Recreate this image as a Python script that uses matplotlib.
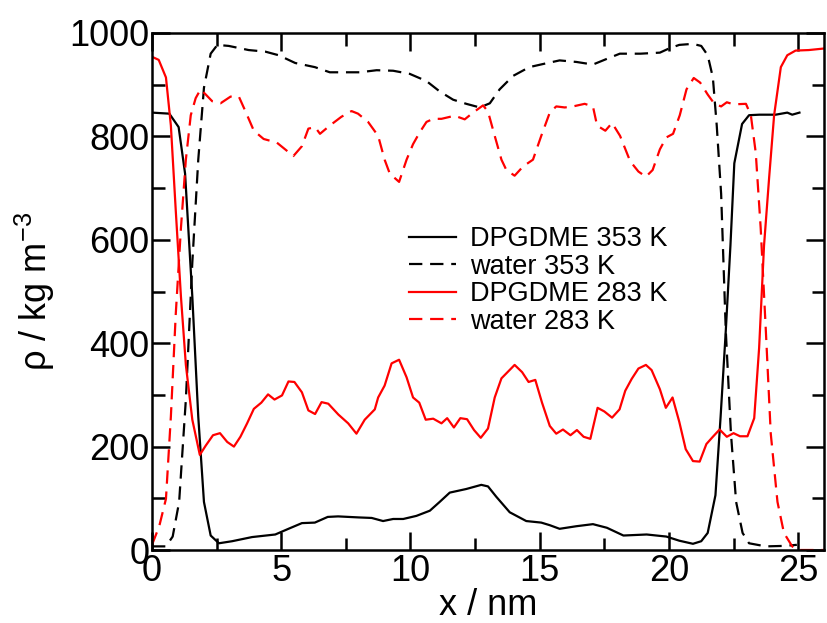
import matplotlib
matplotlib.use("Agg")
import matplotlib.pyplot as plt
from matplotlib.ticker import MultipleLocator

plt.rcParams['font.family'] = ['Liberation Sans', 'DejaVu Sans']
plt.rcParams['mathtext.default'] = 'regular'

# density profiles along the box, x in nm, rho in kg/m^3
x_dpg353 = [0, 0.67, 1.03, 1.28, 1.56, 1.79, 2.01, 2.27, 2.59, 3.1, 3.87, 4.77, 5.28, 5.8,
            6.3, 6.8, 7.2, 8.0, 8.5, 8.94, 9.33, 9.72, 10.23, 10.75, 11.13, 11.52, 12.16,
            12.74, 13.0, 13.32, 13.84, 14.48, 15.06, 15.39, 15.77, 16.42, 17.06, 17.6,
            18.24, 19.14, 19.9, 20.4, 20.93, 21.25, 21.5, 21.8, 22.0, 22.2, 22.38, 22.53,
            22.83, 23.1, 23.5, 24.13, 24.58, 24.77, 25.05]
y_dpg353 = [846, 844, 818, 728, 490, 258, 93, 28, 13, 17, 25, 30, 41, 52,
            53, 64, 65, 63, 62, 56, 60, 60, 66, 76, 93, 111, 118,
            126, 123, 103, 73, 56, 53, 48, 41, 46, 50, 43,
            28, 30, 26, 18, 12, 17, 33, 106, 258, 424, 589, 748,
            824, 841, 842, 842, 846, 842, 846]

x_wat353 = [0, 0.54, 0.8, 1.05, 1.31, 1.56, 1.79, 2.01, 2.27, 2.53, 2.97, 3.74, 4.38, 4.9,
            5.54, 6.3, 6.88, 7.46, 8.04, 8.69, 9.33, 9.97, 10.62, 11.13, 11.65, 12.16,
            12.68, 13.07, 13.45, 13.97, 14.6, 15.13, 15.77, 16.42, 17.06, 17.6, 18.1,
            18.9, 19.65, 20.0, 20.4, 20.92, 21.25, 21.5, 21.7, 21.85, 22.02, 22.2, 22.4,
            22.6, 22.85, 23.1, 23.75, 24.5, 24.95]
y_wat353 = [7, 7, 26, 93, 291, 556, 755, 894, 960, 977, 975, 967, 964, 957,
            942, 934, 924, 924, 924, 928, 927, 921, 907, 887, 871, 863,
            856, 864, 891, 917, 934, 940, 947, 944, 939, 950, 960,
            960, 962, 970, 977, 979, 975, 957, 914, 821, 689, 424, 225,
            93, 33, 13, 7, 8, 10]

x_dpg283 = [0, 0.26, 0.54, 0.73, 0.92, 1.12, 1.31, 1.56, 1.85, 2.08, 2.36, 2.63, 2.91,
            3.17, 3.42, 3.68, 3.94, 4.23, 4.49, 4.74, 5.03, 5.28, 5.51, 5.8, 6.05, 6.31,
            6.56, 6.82, 7.21, 7.59, 7.91, 8.23, 8.62, 8.75, 9.0, 9.27, 9.56, 9.85, 10.1,
            10.34, 10.59, 10.88, 11.2, 11.42, 11.68, 11.93, 12.19, 12.46, 12.72, 13.0,
            13.26, 13.52, 14.03, 14.32, 14.57, 14.83, 15.09, 15.39, 15.64, 15.9, 16.19,
            16.44, 16.7, 16.96, 17.24, 17.5, 17.8, 18.09, 18.31, 18.56, 18.82, 19.11,
            19.33, 19.65, 19.88, 20.14, 20.4, 20.65, 20.93, 21.19, 21.45, 21.7, 21.96,
            22.24, 22.5, 22.75, 23.04, 23.3, 23.49, 23.68, 23.88, 24.07, 24.33, 24.58,
            24.9, 25.41, 26.0]
y_dpg283 = [954, 948, 914, 821, 656, 490, 358, 252, 184, 202, 222, 226, 209,
            200, 219, 245, 273, 285, 301, 291, 299, 326, 325, 305, 270, 263,
            286, 283, 262, 245, 225, 252, 272, 295, 318, 361, 368, 334, 295,
            285, 252, 254, 245, 255, 237, 255, 253, 232, 217, 235,
            295, 332, 358, 344, 325, 329, 285, 240, 225, 233, 222,
            232, 219, 215, 275, 268, 256, 272, 308, 331, 351, 358,
            348, 311, 275, 295, 248, 195, 172, 171, 205, 219, 233,
            219, 226, 220, 220, 255, 391, 589, 722, 841, 934, 957,
            966, 967, 970]

x_wat283 = [0, 0.28, 0.54, 0.73, 0.92, 1.12, 1.31, 1.5, 1.69, 1.88, 2.08, 2.33, 2.65,
            3.04, 3.36, 3.62, 3.94, 4.32, 4.83, 5.15, 5.47, 5.8, 6.05, 6.31, 6.5, 6.88,
            7.33, 7.72, 7.97, 8.36, 8.75, 9.0, 9.2, 9.56, 9.85, 10.1, 10.36, 10.62,
            10.88, 11.2, 11.71, 12.1, 12.42, 12.81, 13.0, 13.26, 13.52, 13.71, 14.03,
            14.36, 14.74, 15.06, 15.39, 15.64, 15.97, 16.29, 16.74, 17.06, 17.22, 17.54,
            17.8, 18.11, 18.5, 18.82, 19.11, 19.37, 19.65, 19.9, 20.16, 20.42, 20.68,
            20.96, 21.21, 21.5, 21.76, 22.02, 22.24, 22.5, 22.98, 23.17, 23.36, 23.55,
            23.75, 23.94, 24.2, 24.45, 24.77, 24.97, 25.5, 26.0]
y_wat283 = [10, 46, 99, 258, 457, 623, 755, 841, 874, 891, 881, 868, 864,
            877, 877, 848, 811, 795, 788, 775, 762, 781, 815, 818, 805, 821,
            838, 849, 844, 828, 801, 755, 728, 712, 755, 785, 808, 828,
            834, 834, 840, 833, 846, 860, 848, 801, 755, 735, 724,
            742, 755, 801, 846, 858, 856, 858, 863, 858, 821, 811,
            826, 801, 752, 732, 722, 735, 775, 798, 805, 841, 891,
            913, 904, 881, 863, 858, 866, 862, 863, 841, 768, 623,
            424, 225, 93, 33, 7, 0, 0, 0]

fig = plt.figure(figsize=(8.27, 6.23), dpi=100)
ax = fig.add_axes([152 / 827, 1 - 550 / 623, 672 / 827, 517 / 623])

lw = 1.6
dash = (6, 3.5)
ax.plot(x_dpg353, y_dpg353, color='black', lw=lw, label='DPGDME 353 K')
ax.plot(x_wat353, y_wat353, color='black', lw=lw, dashes=dash, label='water 353 K')
ax.plot(x_dpg283, y_dpg283, color='red', lw=lw, label='DPGDME 283 K')
ax.plot(x_wat283, y_wat283, color='red', lw=lw, dashes=dash, label='water 283 K')

ax.set_xlim(0, 26)
ax.set_ylim(0, 1000)
ax.xaxis.set_major_locator(MultipleLocator(5))
ax.xaxis.set_minor_locator(MultipleLocator(2.5))
ax.yaxis.set_major_locator(MultipleLocator(200))
ax.yaxis.set_minor_locator(MultipleLocator(100))

for s in ax.spines.values():
    s.set_linewidth(1.8)
ax.tick_params(which='both', direction='in', top=True, right=True, width=1.8,
               labelsize=26)
ax.tick_params(which='major', length=13)
ax.tick_params(which='minor', length=9)
ax.tick_params(axis='x', pad=3)
ax.tick_params(axis='y', pad=2)

ax.set_xlabel('x / nm', fontsize=26, labelpad=-1)
ax.set_ylabel(r'ρ / kg m$^{-3}$', fontsize=26, labelpad=9)

ax.legend(loc='upper left', bbox_to_anchor=(0.363, 0.652), frameon=False,
          fontsize=19.5, handlelength=1.7, handletextpad=0.55, labelspacing=0.05,
          borderpad=0)

fig.savefig('out.png', dpi=100)
